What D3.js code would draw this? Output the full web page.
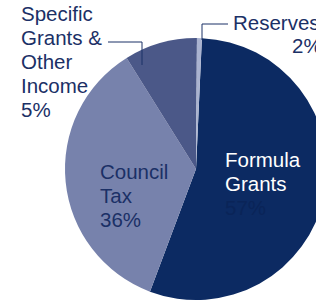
<!DOCTYPE html>
<html>
<head>
<meta charset="utf-8">
<script src="https://cdn.jsdelivr.net/npm/d3@7"></script>
<style>
  body { margin: 0; background: #fff; }
  svg { display: block; }
</style>
</head>
<body>
<svg id="chart"></svg>
<script>
// slices, clockwise from 12 o'clock (angles)
const categories = ['Formula Grants', 'Council Tax', 'Specific Grants & Other Income', 'Reserves'];
const values = [55.0, 35.4, 9.0, 0.6];
const pctLabels = ['57%', '36%', '5%', '2%'];
const colors = ['#0c2a62', '#7782ac', '#4b5888', '#aab3d0'];

const width = 316, height = 303;
const cx = 196, cy = 169, radius = 131;

const svg = d3.select('#chart')
    .attr('width', width)
    .attr('height', height);

const pie = d3.pie()
    .sort(null)
    .startAngle(0.045)
    .endAngle(0.045 + 2 * Math.PI)
    .value(d => d.value);

const arc = d3.arc()
    .innerRadius(0)
    .outerRadius(radius);

const data = categories.map((c, i) => ({ name: c, value: values[i], color: colors[i] }));

const g = svg.append('g')
    .attr('transform', `translate(${cx}, ${cy})`);

g.selectAll('path')
    .data(pie(data))
    .join('path')
    .attr('d', arc)
    .attr('fill', d => d.data.color);

const navy = '#1b3066';
const fontSize = 20.5;

function block(x, y, lines, fill, lastFill) {
    const t = svg.append('text')
        .attr('x', x)
        .attr('y', y)
        .attr('font-family', '"Liberation Sans", Arial, sans-serif')
        .attr('font-size', fontSize)
        .attr('fill', fill);
    lines.forEach((l, i) => {
        t.append('tspan')
            .attr('x', x)
            .attr('dy', i === 0 ? 0 : 24)
            .attr('fill', i === lines.length - 1 && lastFill ? lastFill : null)
            .text(l);
    });
}

// outside labels
block(21, 21, ['Specific', 'Grants &', 'Other', 'Income', pctLabels[2]], navy);
block(233, 30, ['Reserves'], navy);
block(292, 53, [pctLabels[3]], navy);

// inside labels
block(100, 179, ['Council', 'Tax', pctLabels[1]], navy);
block(225, 167, ['Formula', 'Grants', pctLabels[0]], '#ffffff', '#0a2458');

// leader lines
const leader = d3.line();
svg.append('path')
    .attr('d', leader([[108, 42], [142, 42], [142, 65]]))
    .attr('fill', 'none')
    .attr('stroke', navy)
    .attr('stroke-width', 1);

svg.append('path')
    .attr('d', leader([[202, 40], [202, 24], [228, 24]]))
    .attr('fill', 'none')
    .attr('stroke', navy)
    .attr('stroke-width', 1);
</script>
</body>
</html>
